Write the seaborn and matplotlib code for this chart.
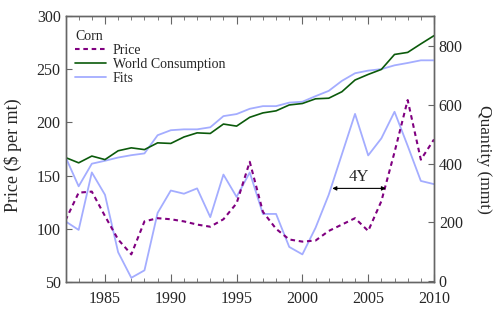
import numpy as np
import pandas as pd
import matplotlib
matplotlib.use("Agg")
import matplotlib.pyplot as plt
import seaborn as sns
from matplotlib.lines import Line2D

years = list(range(1982, 2011))
price = [108, 134, 135, 112, 90, 76, 107, 110, 109, 107, 104, 102, 109, 124, 163,
         116, 100, 90, 88, 89, 98, 104, 110, 98, 126, 172, 221, 165, 184]
price_fit = [107, 99, 153, 132, 78, 54, 61, 115, 136, 133, 138, 111, 151, 130, 153,
             114, 114, 83, 76, 101, 132, 170, 208, 169, 185, 210, 178, 145, 142]
consumption = [421, 403, 426, 414, 444, 454, 448, 471, 469, 491, 505, 503, 535, 528, 558,
               573, 580, 600, 605, 621, 623, 645, 685, 704, 721, 772, 779, 808, 836]
consumption_fit = [423, 323, 400, 410, 421, 429, 435, 497, 514, 517, 517, 524, 562, 569, 587,
                   596, 596, 608, 611, 630, 648, 682, 708, 717, 722, 735, 743, 752, 752]

df = pd.DataFrame({"year": years, "price": price, "price_fit": price_fit,
                   "consumption": consumption, "consumption_fit": consumption_fit})

sns.set_style("ticks")
plt.rcParams["font.family"] = ["Liberation Serif", "DejaVu Serif"]
plt.rcParams["font.size"] = 10

fig = plt.figure(figsize=(5, 3.33), dpi=100)
ax = fig.add_axes([0.131, 0.153, 0.737, 0.799])
ax2 = ax.twinx()

purple = "#800080"
green = "#0b5a0b"
blue = "#a4adff"

sns.lineplot(data=df, x="year", y="price_fit", ax=ax, color=blue, lw=1.3, label="_nolegend_")
sns.lineplot(data=df, x="year", y="price", ax=ax, color=purple, lw=1.5, label="_nolegend_")
ax.lines[-1].set_dashes([2.2, 1.8])
sns.lineplot(data=df, x="year", y="consumption_fit", ax=ax2, color=blue, lw=1.3, label="_nolegend_")
sns.lineplot(data=df, x="year", y="consumption", ax=ax2, color=green, lw=1.2, label="_nolegend_")

ax.set_xlim(1982, 2010)
ax.set_ylim(50, 300)
ax2.set_ylim(-3, 903)
ax.set_yticks([50, 100, 150, 200, 250, 300])
ax2.set_yticks([0, 200, 400, 600, 800])
ax.set_xticks([1985, 1990, 1995, 2000, 2005, 2010])
ax.set_xticks(years, minor=True)

ax.set_xlabel("")
ax.set_ylabel("Price ($ per mt)", fontsize=13, va="center")
ax2.set_ylabel("Quantity (mmt)", fontsize=12.5, rotation=270, va="center")
ax.yaxis.set_label_coords(-0.142, 0.477)
ax2.yaxis.set_label_coords(1.136, 0.46)

spine_col = "#666666"
for a in (ax, ax2):
    for s in a.spines.values():
        s.set_color(spine_col)
        s.set_linewidth(1.0)
ax.tick_params(axis="both", which="both", direction="in", color=spine_col,
               top=True, labelsize=11.5)
ax.tick_params(axis="x", which="major", length=6, pad=6.5)
ax.tick_params(axis="x", which="minor", length=3)
ax.tick_params(axis="y", which="major", length=4)
ax2.tick_params(axis="y", direction="in", color=spine_col, length=4, labelsize=11.5)

handles = [Line2D([], [], color=purple, lw=1.5, dashes=[2.2, 1.8]),
           Line2D([], [], color=green, lw=1.2),
           Line2D([], [], color=blue, lw=1.3)]
leg = ax.legend(handles, ["Price", "World Consumption", "Fits"], title="Corn",
                loc="upper left", bbox_to_anchor=(0.0, 0.985), frameon=False,
                fontsize=10, title_fontsize=10,
                handlelength=2.2, handletextpad=0.5, labelspacing=0.08,
                borderaxespad=0.3, alignment="left")

ax.annotate("", xy=(2002.27, 138), xytext=(2006.35, 138),
            arrowprops=dict(arrowstyle="<|-|>", color="black", lw=0.8,
                            mutation_scale=6, shrinkA=0, shrinkB=0))
ax.text(2004.3, 141, "4Y", ha="center", va="bottom", fontsize=12)

fig.savefig("out.png", dpi=100)
